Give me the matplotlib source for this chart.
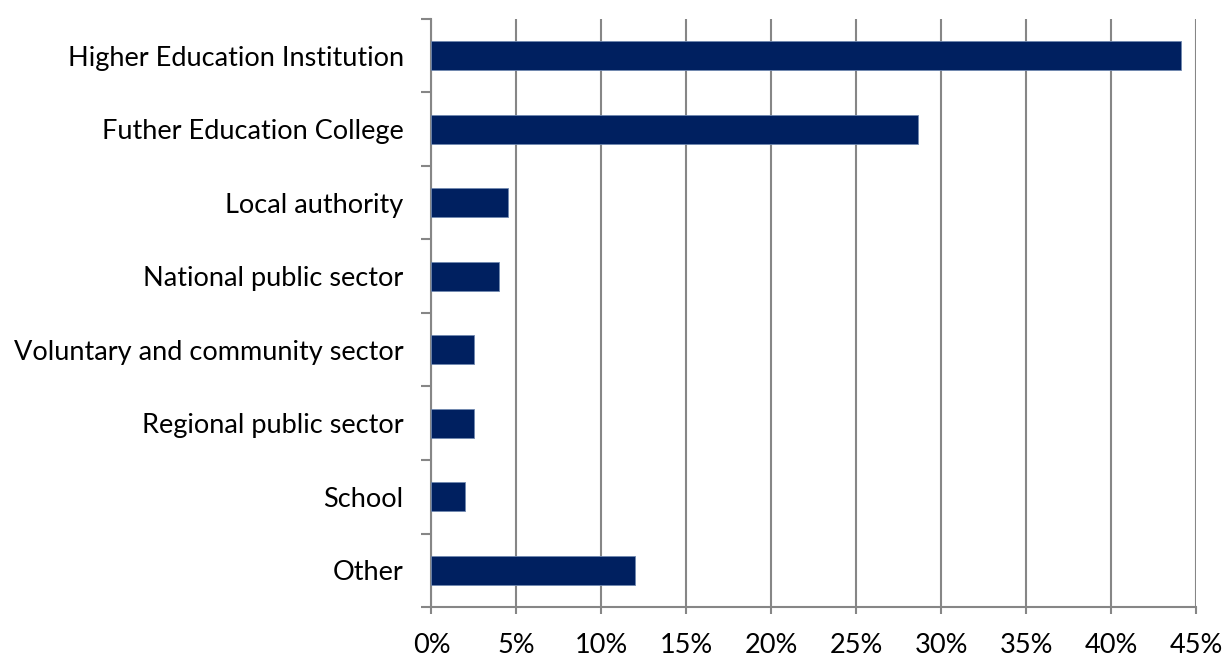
import matplotlib

matplotlib.use("Agg")
import matplotlib.pyplot as plt
import numpy as np
from matplotlib.ticker import FixedLocator, PercentFormatter

categories = [
    "Higher Education Institution",
    "Futher Education College",
    "Local authority",
    "National public sector",
    "Voluntary and community sector",
    "Regional public sector",
    "School",
    "Other",
]
shares = [44.1, 28.6, 4.5, 4.0, 2.5, 2.5, 2.0, 12.0]
x_ticks = [0, 5, 10, 15, 20, 25, 30, 35, 40, 45]

BAR_COLOR = "#002060"
GRID_COLOR = "#868686"

plt.rcParams["font.family"] = ["Lato", "DejaVu Sans"]

fig = plt.figure(figsize=(12.24, 6.59), dpi=100)
ax = fig.add_axes([0.3525, 0.0789, 0.625, 0.8923])

y = np.arange(len(categories))
ax.barh(y, shares, height=0.39, color=BAR_COLOR, edgecolor="#7088b0", linewidth=0.6, zorder=3)

ax.set_xlim(0, 45)
ax.set_ylim(len(categories) - 0.5, -0.5)
ax.set_xticks(x_ticks)
ax.xaxis.set_major_formatter(PercentFormatter(decimals=0))
ax.set_yticks(y)
ax.set_yticklabels(categories)
ax.yaxis.set_minor_locator(FixedLocator(np.arange(len(categories) + 1) - 0.5))

ax.grid(axis="x", color=GRID_COLOR, linewidth=1.5, zorder=0)
ax.tick_params(axis="x", which="major", length=5, width=1.5, color=GRID_COLOR,
               labelsize=19.5, pad=14)
ax.tick_params(axis="y", which="major", length=0, labelsize=19.5, pad=20)
ax.tick_params(axis="y", which="minor", length=7, width=1.5, color=GRID_COLOR)

for side in ("top", "right"):
    ax.spines[side].set_visible(False)
for side in ("left", "bottom"):
    ax.spines[side].set_color(GRID_COLOR)
    ax.spines[side].set_linewidth(1.5)

fig.savefig("out.png", dpi=100)
